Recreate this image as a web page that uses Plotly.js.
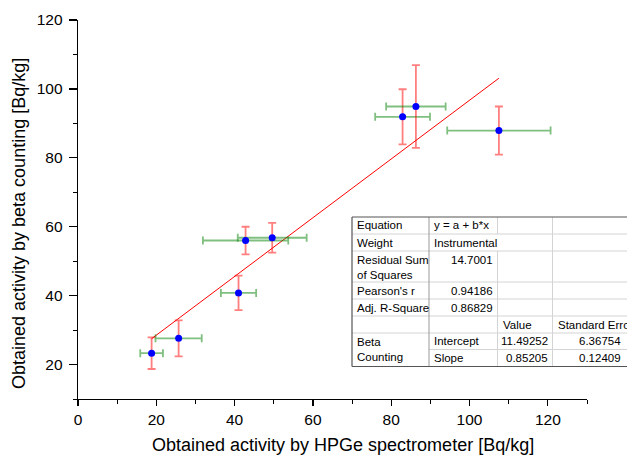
<!DOCTYPE html>
<html>
<head>
<meta charset="utf-8">
<script src="https://cdn.plot.ly/plotly-3.0.1.min.js"></script>
<style>html,body{margin:0;padding:0;background:#fff;}#chart{width:627px;height:455px;}</style>
</head>
<body>
<div id="chart"></div>
<script>
// ---- data ----
const hpge      = [18.8, 25.7, 41.0, 42.8, 49.6, 82.9, 86.3, 107.5];
const beta      = [23.3, 27.6, 40.8, 56.0, 56.8, 91.9, 94.9, 87.9];
const hpgeErr   = [2.9, 5.9, 4.5, 10.9, 8.8, 7.0, 7.6, 13.2];
const betaErr   = [4.6, 5.2, 5.0, 4.0, 4.3, 8.0, 12.0, 7.0];
const fitX      = [18.8, 107.5];
const fitY      = [27.5, 103.1];
const xTickVals = [0, 20, 40, 60, 80, 100, 120];
const yTickVals = [20, 40, 60, 80, 100, 120];
const xTitle = "Obtained activity by HPGe spectrometer [Bq/kg]";
const yTitle = "Obtained activity by beta counting [Bq/kg]";
const tableRows = [
  ["Equation", "y = a + b*x", "", ""],
  ["Weight", "Instrumental", "", ""],
  ["Residual Sum<br>of Squares", "14.7001", "", ""],
  ["Pearson's r", "0.94186", "", ""],
  ["Adj. R-Square", "0.86829", "", ""],
  ["", "", "Value", "Standard Error"],
  ["Beta<br>Counting", "Intercept", "11.49252", "6.36754"],
  ["", "Slope", "0.85205", "0.12409"]
];

// ---- layout geometry (pixels) ----
const W = 627, H = 455;
const M = {l: 78, r: 40, t: 20, b: 56};
const PW = W - M.l - M.r, PH = H - M.t - M.b;
const px = x => (x - M.l) / PW;
const py = y => (H - M.b - y) / PH;

const colX = [352, 429, 497.5, 552.5, 640];
const rowY = [217, 234, 251, 282, 299, 316, 333, 349.5, 366.5];

const shapes = [];
const annotations = [];
const font = {family: "Liberation Sans, Arial, sans-serif", size: 11.5, color: "#000"};
const lightLine = {color: "#d4d4d4", width: 1};
const darkLine = {color: "#555", width: 1.2};

function line(x0, y0, x1, y1, ln) {
  shapes.push({type: "line", xref: "paper", yref: "paper",
    x0: px(x0), y0: py(y0), x1: px(x1), y1: py(y1), line: ln});
}
shapes.push({type: "rect", xref: "paper", yref: "paper", x0: px(colX[0]), x1: px(colX[4]),
  y0: py(rowY[0]), y1: py(rowY[8]), fillcolor: "#fff", line: {width: 0}});
for (let i = 1; i < rowY.length - 1; i++) {
  const startX = (i === 7) ? colX[1] : colX[0];
  line(startX, rowY[i], colX[4], rowY[i], lightLine);
}
line(colX[2], rowY[0], colX[2], rowY[1], lightLine);
line(colX[2], rowY[2], colX[2], rowY[8], lightLine);
line(colX[3], rowY[0], colX[3], rowY[8], lightLine);
line(colX[1], rowY[0], colX[1], rowY[8], {color: "#999", width: 1});
line(colX[0], rowY[0], colX[4], rowY[0], darkLine);
line(colX[0], rowY[8], colX[4], rowY[8], darkLine);
line(colX[0], rowY[0], colX[0], rowY[8], darkLine);
shapes.forEach(s => s.layer = "above");

function cell(text, c, r0, r1, align, valign) {
  if (!text) return;
  const xPix = align === "right" ? colX[c + 1] - 3 : colX[c] + 3;
  const yPix = valign === "top" ? rowY[r0] + 1 : (rowY[r0] + rowY[r1]) / 2;
  annotations.push({xref: "paper", yref: "paper", x: px(xPix), y: py(yPix),
    xanchor: align === "right" ? "right" : "left", yanchor: valign === "top" ? "top" : "middle",
    align: "left", text: text, showarrow: false, font: font});
}
cell(tableRows[0][0], 0, 0, 1, "left");
cell(tableRows[0][1], 1, 0, 1, "left");
cell(tableRows[1][0], 0, 1, 2, "left");
cell(tableRows[1][1], 1, 1, 2, "left");
cell(tableRows[2][0], 0, 2, 3, "left", "top");
cell(tableRows[2][1], 1, 2, 3, "right", "top");
cell(tableRows[3][0], 0, 3, 4, "left");
cell(tableRows[3][1], 1, 3, 4, "right");
cell(tableRows[4][0], 0, 4, 5, "left");
cell(tableRows[4][1], 1, 4, 5, "right");
cell(tableRows[5][2], 2, 5, 6, "left");
cell(tableRows[5][3], 3, 5, 6, "left");
cell(tableRows[6][0], 0, 6, 8, "left");
cell(tableRows[6][1], 1, 6, 7, "left");
cell(tableRows[6][2], 2, 6, 7, "right");
annotations.push({xref: "paper", yref: "paper", x: px(623), y: py((rowY[6] + rowY[7]) / 2),
  xanchor: "right", yanchor: "middle", text: tableRows[6][3], showarrow: false, font: font});
cell(tableRows[7][1], 1, 7, 8, "left");
cell(tableRows[7][2], 2, 7, 8, "right");
annotations.push({xref: "paper", yref: "paper", x: px(623), y: py((rowY[7] + rowY[8]) / 2),
  xanchor: "right", yanchor: "middle", text: tableRows[7][3], showarrow: false, font: font});

// axis titles (placed as in reference)
const titleFont = {family: "Liberation Sans, Arial, sans-serif", size: 18, color: "#000"};
annotations.push({xref: "paper", yref: "paper", x: px(343), y: py(445), xanchor: "center", yanchor: "middle",
  text: xTitle, showarrow: false, font: titleFont});
annotations.push({xref: "paper", yref: "paper", x: px(19), y: py(224), xanchor: "center", yanchor: "middle",
  text: yTitle, textangle: -90, showarrow: false, font: titleFont});

const traces = [
  {x: fitX, y: fitY, mode: "lines", line: {color: "#ff0000", width: 1}, hoverinfo: "skip"},
  {x: hpge, y: beta, mode: "markers", type: "scatter",
   marker: {color: "#0000ff", size: 7},
   error_x: {type: "data", array: hpgeErr, color: "rgba(0,128,0,0.5)", thickness: 1.8, width: 4},
   error_y: {type: "data", array: betaErr, color: "rgba(255,0,0,0.5)", thickness: 1.8, width: 4}}
];

const tickFont = {family: "Liberation Sans, Arial, sans-serif", size: 15.5, color: "#000"};
const layout = {
  width: W, height: H, margin: M, showlegend: false,
  paper_bgcolor: "#fff", plot_bgcolor: "#fff",
  xaxis: {range: [0, 130], tickvals: xTickVals, showgrid: false, zeroline: false,
    showline: true, linecolor: "#000", linewidth: 1.3, ticks: "outside", ticklen: 6, tickwidth: 1.2, tickcolor: "#000",
    minor: {dtick: 10, tick0: 0, ticks: "outside", ticklen: 4, tickcolor: "#000", tickwidth: 1},
    tickfont: tickFont},
  yaxis: {range: [10, 120], tickvals: yTickVals, showgrid: false, zeroline: false,
    showline: true, linecolor: "#000", linewidth: 1.3, ticks: "outside", ticklen: 8, tickwidth: 1.2, tickcolor: "#000",
    ticklabelstandoff: 3,
    minor: {dtick: 10, tick0: 0, ticks: "outside", ticklen: 4, tickcolor: "#000", tickwidth: 1},
    tickfont: tickFont},
  shapes: shapes, annotations: annotations
};
Plotly.newPlot("chart", traces, layout, {displayModeBar: false, staticPlot: true});
</script>
</body>
</html>
